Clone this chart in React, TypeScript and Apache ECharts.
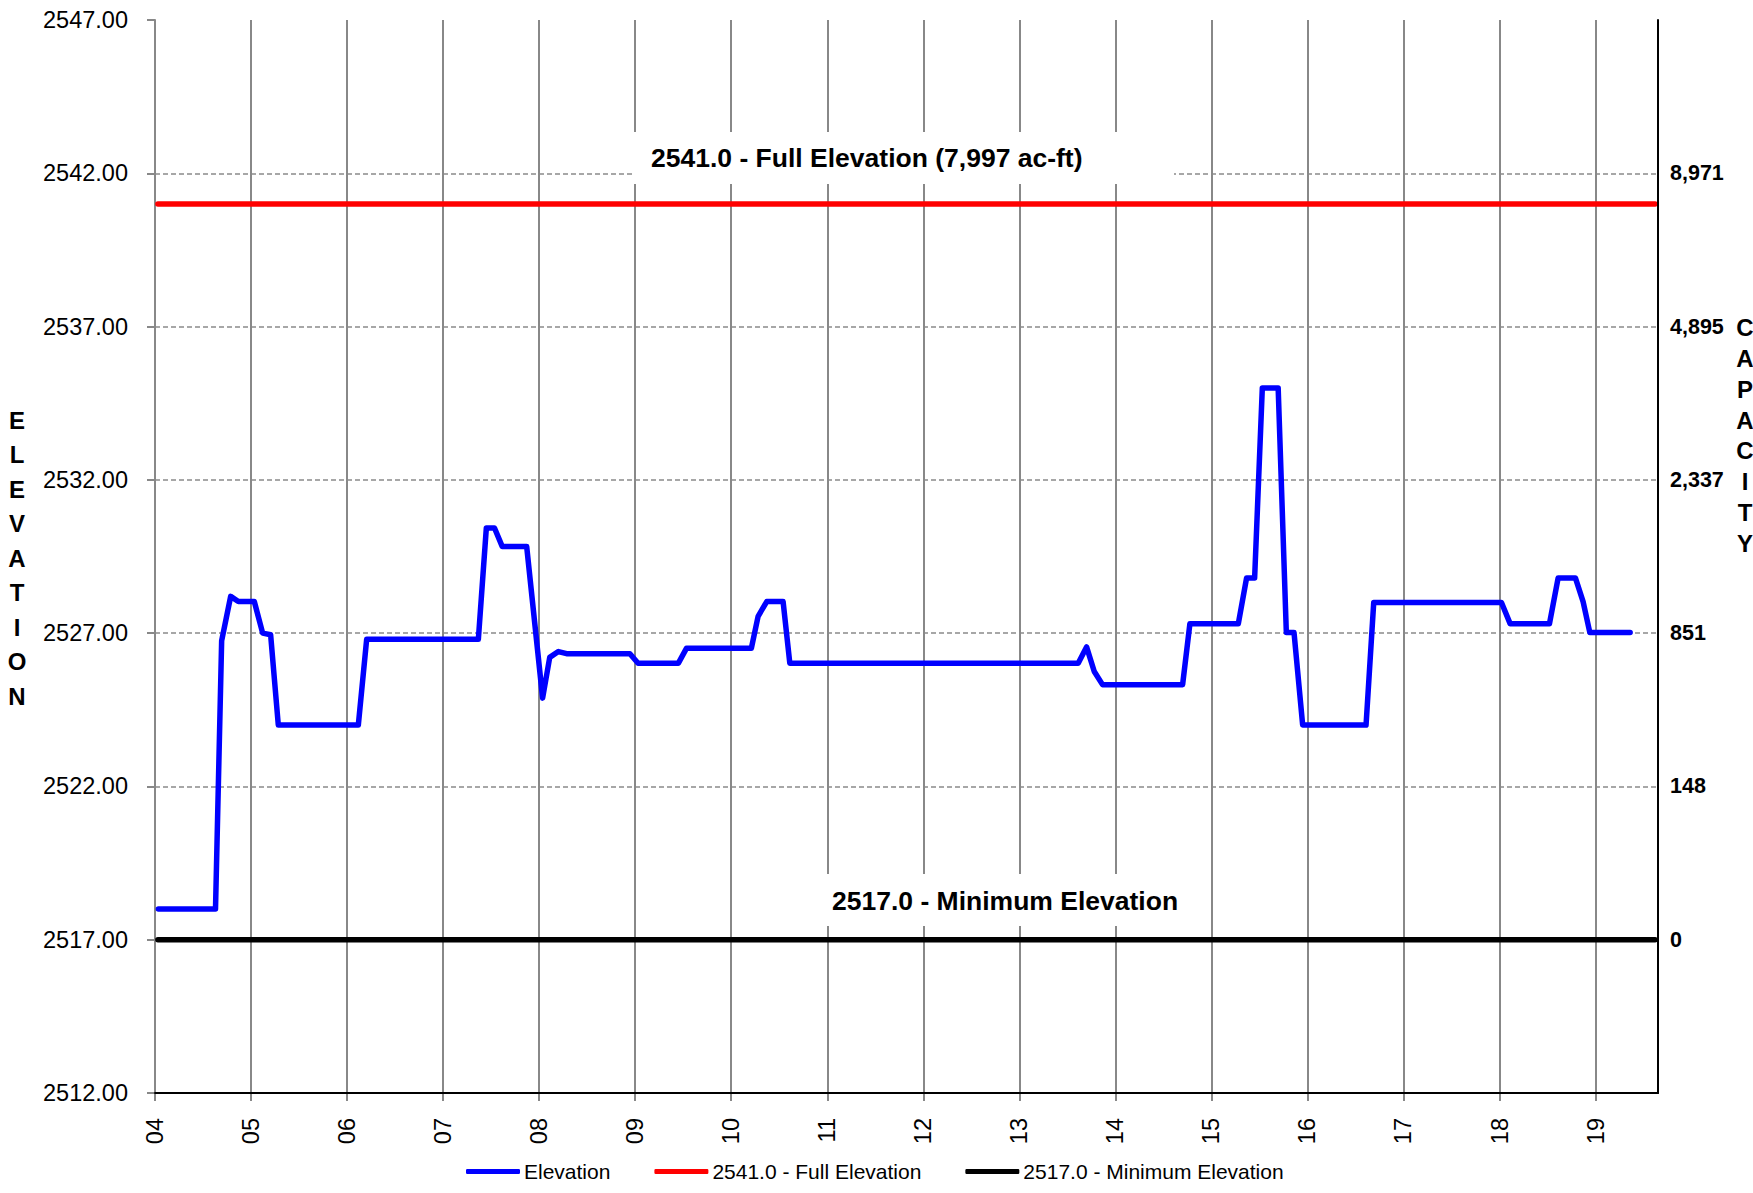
import React, { useEffect, useRef } from "react";
import * as echarts from "echarts";

// ---- data ----
const BASE = 2512; // bottom of the elevation axis
const Y_MIN = 2512;
const Y_MAX = 2547;
const Y_STEP = 5;
const X_START = 2004;
const X_END = 2019.65;

const elevDates = [
  2004.035, 2004.63, 2004.694, 2004.788, 2004.868, 2005.034, 2005.121, 2005.204, 2005.284,
  2006.117, 2006.204, 2007.367, 2007.45, 2007.535, 2007.615, 2007.87, 2008.036, 2008.11,
  2008.2, 2008.286, 2008.945, 2009.03, 2009.45, 2009.535, 2010.21, 2010.28, 2010.37,
  2010.54, 2010.61, 2013.613, 2013.7, 2013.78, 2013.866, 2014.7, 2014.776, 2015.28,
  2015.366, 2015.45, 2015.53, 2015.695, 2015.78, 2015.86, 2015.95, 2016.61, 2016.69,
  2018.02, 2018.11, 2018.52, 2018.61, 2018.79, 2018.87, 2018.94, 2019.36,
];
const elevValues = [
  2518.0, 2518.0, 2526.75, 2528.2, 2528.03, 2528.03, 2527.0, 2526.95, 2524.0,
  2524.0, 2526.8, 2526.8, 2530.43, 2530.43, 2529.83, 2529.83, 2524.88, 2526.21,
  2526.4, 2526.33, 2526.33, 2526.02, 2526.02, 2526.51, 2526.51, 2527.55, 2528.03,
  2528.03, 2526.02, 2526.02, 2526.55, 2525.75, 2525.32, 2525.32, 2527.31, 2527.31,
  2528.8, 2528.8, 2535.0, 2535.0, 2527.02, 2527.02, 2524.0, 2524.0, 2528.0,
  2528.0, 2527.31, 2527.31, 2528.8, 2528.8, 2528.03, 2527.02, 2527.02,
];

const FULL_ELEV = 2541.0;
const MIN_ELEV = 2517.0;
const refLineDates = [2004.03, 2019.62];

const capacityElev = [2517, 2522, 2527, 2532, 2537, 2542];
const capacityLabels = ["0", "148", "851", "2,337", "4,895", "8,971"];

const seriesNames = ["Elevation", "2541.0 - Full Elevation", "2517.0 - Minimum Elevation"];
const seriesColors = ["#0000ff", "#ff0000", "#000000"];
const fullTitle = "2541.0 - Full Elevation (7,997 ac-ft)";
const minTitle = "2517.0 - Minimum Elevation";
const leftAxisTitle = "ELEVATION";
const rightAxisTitle = "CAPACITY";

const FONT = "'Liberation Sans', Arial, sans-serif";

export default function App() {
  const ref = useRef<HTMLDivElement>(null);
  useEffect(() => {
    if (!ref.current) return;
    const chart = echarts.init(ref.current, undefined, { renderer: "svg" });

    const elevData = elevDates.map((d, i) => [d, elevValues[i] - BASE]);
    const fullData = refLineDates.map((d) => [d, FULL_ELEV - BASE]);
    const minData = refLineDates.map((d) => [d, MIN_ELEV - BASE]);

    const isInt = (v: number) => Math.abs(v - Math.round(v)) < 1e-6;

    const option: any = {
      animation: false,
      backgroundColor: "#ffffff",
      grid: {
        left: 155,
        right: 95,
        top: 20,
        bottom: 100,
        show: false,
      },
      xAxis: [
        {
          type: "value",
          min: X_START,
          max: X_END,
          interval: 1,
          axisLine: { show: true, lineStyle: { color: "#888888", width: 2 } },
          axisTick: { show: true, length: 8, lineStyle: { color: "#888888", width: 2 } },
          axisLabel: {
            rotate: 90,
            margin: 25,
            color: "#000",
            fontSize: 23.5,
            fontFamily: FONT,
            showMaxLabel: false,
            formatter: (v: number) => (isInt(v) ? String(Math.round(v)).slice(2) : ""),
          },
          splitLine: {
            show: true,
            showMaxLine: false,
            lineStyle: { color: "#888888", width: 2, type: "solid" },
          },
        },
        {
          type: "value",
          position: "top",
          min: X_START,
          max: X_END,
          z: 6,
          axisLine: { show: true, lineStyle: { color: "#000000", width: 2 } },
          axisTick: { show: false },
          axisLabel: { show: false },
          splitLine: { show: false },
        },
      ],
      yAxis: [
        {
          type: "value",
          min: Y_MIN - BASE,
          max: Y_MAX - BASE,
          interval: Y_STEP,
          axisLine: { show: true, lineStyle: { color: "#888888", width: 2 } },
          axisTick: { show: true, length: 8, lineStyle: { color: "#888888", width: 2 } },
          axisLabel: {
            margin: 27,
            color: "#000",
            fontSize: 23.5,
            fontFamily: FONT,
            formatter: (v: number) => (v + BASE).toFixed(2),
          },
          splitLine: {
            show: true,
            showMaxLine: false,
            showMinLine: false,
            lineStyle: { color: "#8a8a8a", width: 1.5, type: [5, 3] },
          },
        },
        {
          type: "value",
          position: "right",
          min: Y_MIN - BASE,
          max: Y_MAX - BASE,
          interval: Y_STEP,
          z: 6,
          axisLine: { show: true, lineStyle: { color: "#000000", width: 2 } },
          axisTick: { show: false },
          axisLabel: {
            margin: 12,
            color: "#000",
            fontSize: 21.5,
            fontWeight: "bold",
            fontFamily: FONT,
            formatter: (v: number) => {
              const idx = capacityElev.findIndex((e) => Math.abs(e - (v + BASE)) < 1e-6);
              return idx >= 0 ? capacityLabels[idx] : "";
            },
          },
          splitLine: { show: false },
        },
      ],
      legend: {
        left: 461,
        top: 1156,
        icon: "roundRect",
        itemWidth: 54,
        itemHeight: 5,
        itemGap: 44,
        data: seriesNames,
        textStyle: { color: "#000", fontSize: 21, fontFamily: FONT, padding: [0, 0, 0, -1] },
      },
      series: [
        {
          name: seriesNames[0],
          type: "line",
          data: elevData,
          symbol: "none",
          z: 4,
          color: seriesColors[0],
          lineStyle: { color: seriesColors[0], width: 5.5, join: "round", cap: "round" },
        },
        {
          name: seriesNames[1],
          type: "line",
          data: fullData,
          symbol: "none",
          z: 3,
          color: seriesColors[1],
          lineStyle: { color: seriesColors[1], width: 5.5, cap: "round" },
        },
        {
          name: seriesNames[2],
          type: "line",
          data: minData,
          symbol: "none",
          z: 3,
          color: seriesColors[2],
          lineStyle: { color: seriesColors[2], width: 5.5, cap: "round" },
        },
      ],
      graphic: [
        {
          type: "rect",
          z: 10,
          shape: { x: 632, y: 132, width: 542, height: 52 },
          style: { fill: "#ffffff" },
        },
        {
          type: "text",
          z: 11,
          x: 651,
          y: 158,
          style: {
            text: fullTitle,
            fill: "#000",
            fontSize: 26.5,
            fontWeight: "bold",
            fontFamily: FONT,
            align: "left",
            verticalAlign: "middle",
          },
        },
        {
          type: "rect",
          z: 10,
          shape: { x: 822, y: 874, width: 366, height: 52 },
          style: { fill: "#ffffff" },
        },
        {
          type: "text",
          z: 11,
          x: 832,
          y: 901,
          style: {
            text: minTitle,
            fill: "#000",
            fontSize: 26.5,
            fontWeight: "bold",
            fontFamily: FONT,
            align: "left",
            verticalAlign: "middle",
          },
        },
        {
          type: "text",
          z: 11,
          x: 17,
          y: 558,
          style: {
            text: leftAxisTitle.split("").join("\n"),
            fill: "#000",
            fontSize: 24,
            fontWeight: "bold",
            fontFamily: FONT,
            lineHeight: 34.5,
            align: "center",
            verticalAlign: "middle",
          },
        },
        {
          type: "text",
          z: 11,
          x: 1745,
          y: 435.5,
          style: {
            text: rightAxisTitle.split("").join("\n"),
            fill: "#000",
            fontSize: 24,
            fontWeight: "bold",
            fontFamily: FONT,
            lineHeight: 30.8,
            align: "center",
            verticalAlign: "middle",
          },
        },
      ],
    };

    chart.setOption(option);
    return () => chart.dispose();
  }, []);

  return (
    <div
      ref={ref}
      style={{ position: "absolute", left: 0, top: 0, width: 1753, height: 1193, background: "#fff" }}
    />
  );
}
